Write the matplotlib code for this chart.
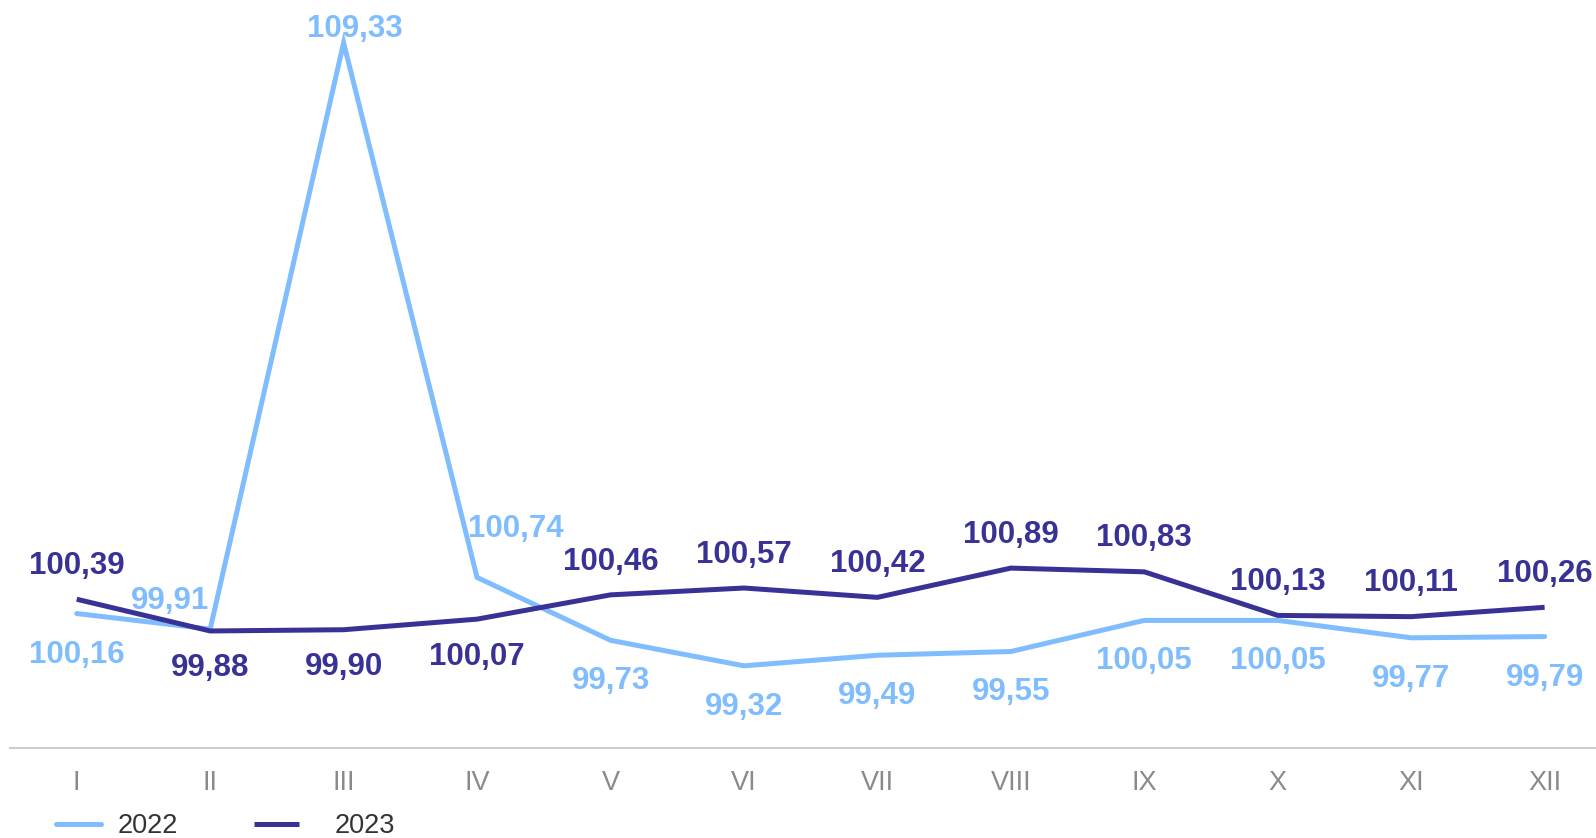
import matplotlib
matplotlib.use("Agg")
import matplotlib.pyplot as plt

# monthly values, previous month = 100
months = ["I", "II", "III", "IV", "V", "VI", "VII", "VIII", "IX", "X", "XI", "XII"]
vals_2022 = [100.16, 99.91, 109.33, 100.74, 99.73, 99.32, 99.49, 99.55, 100.05, 100.05, 99.77, 99.79]
vals_2023 = [100.39, 99.88, 99.90, 100.07, 100.46, 100.57, 100.42, 100.89, 100.83, 100.13, 100.11, 100.26]

c22 = "#80BDFE"
c23 = "#393296"

plt.rcParams["font.family"] = ["Liberation Sans", "DejaVu Sans"]

fig = plt.figure(figsize=(15.96, 8.38), dpi=100)
ax = fig.add_axes([10 / 1596, 90 / 838, 1586 / 1596, 747 / 838])

x = list(range(len(months)))
l22, = ax.plot(x, vals_2022, color=c22, lw=3.6, solid_capstyle="round", solid_joinstyle="miter")
l23, = ax.plot(x, vals_2023, color=c23, lw=3.6, solid_capstyle="butt", solid_joinstyle="miter")

ax.set_xlim(-0.5, 11.385)
ax.set_ylim(98, 110)


def fmt(v):
    return f"{v:.2f}".replace(".", ",")


# label offsets in points (dx, dy)
off22 = {1: (-29, 20), 2: (8, 10), 3: (28, 35)}
for i, v in enumerate(vals_2022):
    dx, dy = off22.get(i, (0, -29.5))
    ax.annotate(fmt(v), (i, v), xytext=(dx, dy), textcoords="offset points",
                ha="center", va="center", color=c22, fontsize=22.5, fontweight="bold",
                annotation_clip=False)

for i, v in enumerate(vals_2023):
    dy = -27 if i in (1, 2, 3) else 24
    ax.annotate(fmt(v), (i, v), xytext=(0, dy), textcoords="offset points",
                ha="center", va="center", color=c23, fontsize=22.5, fontweight="bold",
                annotation_clip=False)

for s in ["top", "right", "left"]:
    ax.spines[s].set_visible(False)
ax.spines["bottom"].set_color("#cccccc")
ax.spines["bottom"].set_linewidth(1.5)
ax.set_yticks([])
ax.set_xticks(x)
ax.set_xticklabels(months)
ax.tick_params(axis="x", length=0, pad=16, labelsize=19.5, labelcolor="#8a8a8a")

# legend: two separate entries
for h, lab, x0, pad in [(l22, "2022", 56, 0.63), (l23, "2023", 254, 1.33)]:
    leg = fig.legend(handles=[h], labels=[lab], loc="center left",
                     bbox_to_anchor=(x0 / 1596, 12 / 838), frameon=False, fontsize=19.5,
                     handlelength=1.65, handletextpad=pad, borderpad=0, borderaxespad=0)
    for t in leg.get_texts():
        t.set_color("#333333")

fig.savefig("out.png", dpi=100)
